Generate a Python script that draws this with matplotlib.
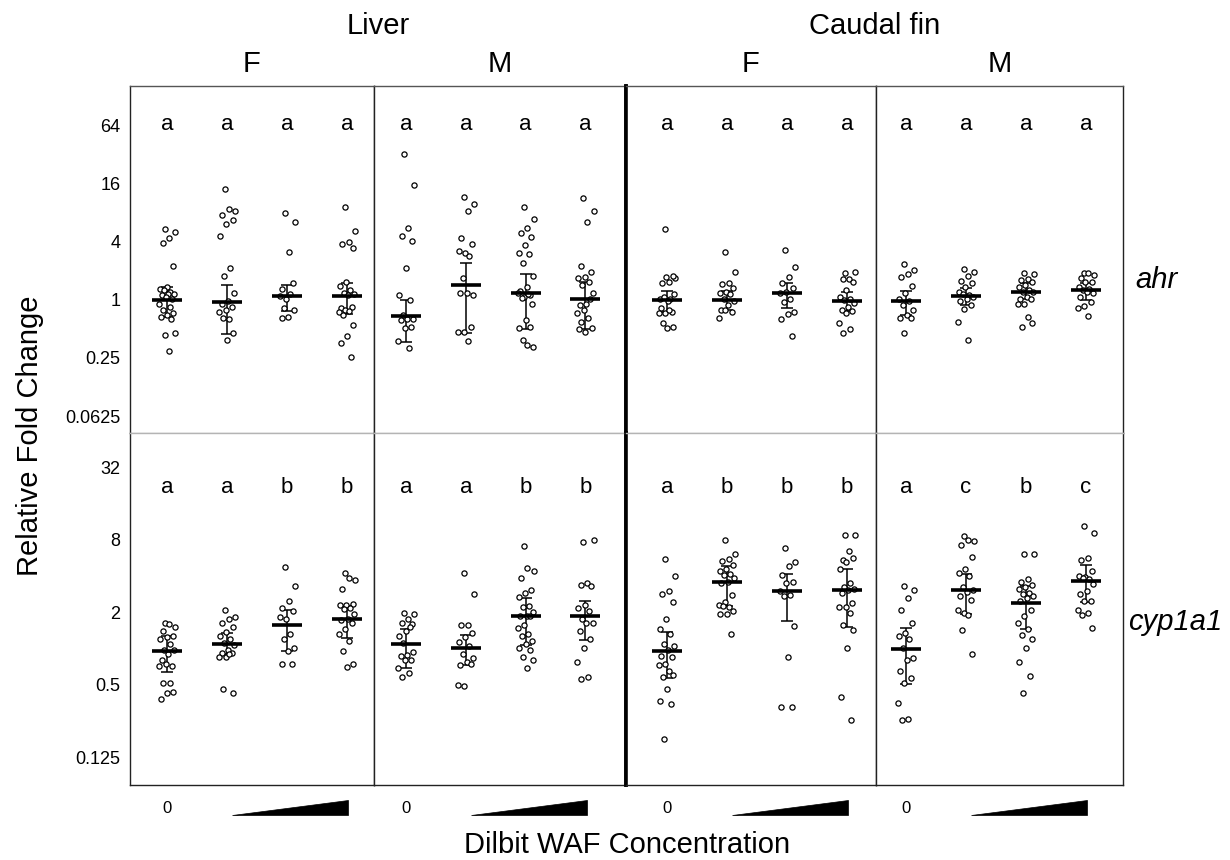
import numpy as np
import matplotlib.pyplot as plt
from matplotlib.patches import Polygon

plt.rcParams['font.family'] = ['Liberation Sans', 'DejaVu Sans']

tissues = ['Liver', 'Caudal fin']
sexes = ['F', 'M', 'F', 'M']
genes = ['ahr', 'cyp1a1']

# log2 relative fold change, one list per WAF level (0, low, mid, high)
ahr_liver_F = [
    [2.42, 2.33, 2.13, 1.96, 1.15, 0.44, 0.35, 0.27, 0.33, 0.19, 0.19, 0.16, 0.04, 0.08,
     -0.16, -0.26, -0.36, -0.47, -0.54, -0.59, -0.66, -1.22, -1.16, -1.75],
    [3.81, 3.06, 3.10, 2.91, 2.74, 2.59, 2.19, 1.10, 0.82, 0.24, -0.05, -0.16, -0.24, -0.36,
     -0.41, -0.68, -0.62, -1.16, -1.39],
    [2.99, 2.68, 1.64, 0.36, 0.56, 0.01, 0.12, 0.19, -0.30, -0.36, -0.59, -0.62],
    [3.17, 2.37, 1.99, 1.90, 1.77, 0.60, 0.47, 0.33, 0.24, 0.19, 0.17, -0.30, -0.24, -0.36,
     -0.41, -0.39, -0.54, -0.88, -1.25, -1.48, -1.97],
]
ahr_liver_M = [
    [4.99, 3.94, 2.47, 2.20, 2.00, 1.10, 0.15, -0.01, -0.54, -0.66, -0.66, -0.70, -0.94, -0.99,
     -1.42, -1.65],
    [3.54, 3.27, 3.05, 2.11, 1.91, 1.59, 1.68, 1.51, 0.73, 0.15, 0.24, 0.24, -0.93, -1.10,
     -1.12, -1.42],
    [3.18, 2.78, 2.46, 2.28, 2.14, 1.87, 1.59, 1.57, 1.25, 0.82, 0.44, 0.30, 0.17, 0.10, 0.22,
     0.19, 0.05, -0.16, -0.70, -0.98, -0.95, -1.39, -1.62, -1.56],
    [3.49, 3.05, 2.68, 1.16, 0.96, 0.79, 0.73, 0.62, 0.50, 0.24, -0.16, -0.18, 0.04, -0.36,
     -0.45, -0.62, -0.76, -0.99, -1.12, -1.01],
]
ahr_fin_F = [
    [2.42, 0.73, 0.62, 0.56, 0.82, 0.79, 0.01, 0.01, 0.08, 0.19, -0.04, -0.27, -0.41, -0.45,
     -0.47, -0.36, -0.79, -0.93, -0.98],
    [1.65, 0.96, 0.58, 0.54, 0.39, 0.27, 0.22, 0.19, 0.01, -0.05, -0.19, -0.36, -0.41, -0.36,
     -0.62],
    [1.69, 1.11, 0.79, 0.56, 0.39, 0.27, 0.22, 0.04, -0.07, -0.41, -0.49, -0.66, -1.25],
    [0.93, 0.96, 0.70, 0.70, 0.59, 0.33, 0.10, 0.04, -0.01, -0.13, -0.24, -0.36, -0.38, -0.45,
     -0.79, -1.01, -1.16],
]
ahr_fin_M = [
    [1.21, 1.02, 0.88, 0.79, 0.47, 0.22, 0.04, -0.04, -0.18, -0.36, -0.53, -0.64, -0.62, -1.16],
    [1.05, 0.96, 0.82, 0.65, 0.56, 0.42, 0.27, 0.16, 0.19, 0.10, 0.01, -0.04, -0.18, -0.33,
     -0.76, -1.39],
    [0.93, 0.87, 0.70, 0.67, 0.62, 0.52, 0.44, 0.33, 0.27, 0.27, 0.10, 0.04, 0.01, -0.15, -0.16,
     -0.59, -0.93, -0.79],
    [0.93, 0.85, 0.93, 0.73, 0.60, 0.62, 0.44, 0.35, 0.33, 0.22, 0.27, 0.08, -0.07, -0.22,
     -0.27, -0.56],
]

cyp_liver_F = [
    [0.71, 0.58, 0.66, 0.48, 0.35, 0.32, 0.25, 0.11, -0.05, -0.05, -0.17, -0.31, -0.49, -0.44,
     -0.49, -0.95, -0.95, -1.21, -1.24, -1.41],
    [1.05, 0.87, 0.82, 0.69, 0.59, 0.44, 0.35, 0.27, 0.14, 0.09, -0.05, -0.12, -0.14, -0.23,
     -0.23, -0.16, -1.11, -1.24],
    [2.25, 1.73, 1.30, 1.12, 1.03, 0.82, 0.87, 0.39, 0.25, 0.02, -0.07, -0.42, -0.44],
    [2.09, 1.88, 1.95, 1.65, 1.22, 1.19, 1.19, 1.10, 1.08, 0.94, 0.80, 0.78, 0.71, 0.53, 0.39,
     0.21, -0.08, -0.42, -0.51],
]
cyp_liver_M = [
    [0.98, 0.94, 0.82, 0.71, 0.67, 0.47, 0.35, 0.59, 0.14, -0.09, -0.19, -0.21, -0.31, -0.32,
     -0.53, -0.69, -0.78],
    [2.09, 1.51, 0.64, 0.64, 0.41, 0.32, 0.17, 0.06, -0.16, -0.28, -0.37, -0.46, -0.44, -1.03,
     -1.01],
    [2.83, 2.14, 2.21, 1.95, 1.62, 1.54, 1.42, 1.17, 1.15, 1.01, 0.90, 0.90, 0.89, 0.64, 0.55,
     0.39, 0.35, 0.20, 0.11, 0.00, -0.05, -0.23, -0.31, -0.55],
    [2.94, 3.00, 1.81, 1.74, 1.73, 1.19, 1.10, 1.04, 0.82, 0.71, 0.71, 0.48, 0.25, 0.02, -0.37,
     -0.78, -0.85],
]
cyp_fin_F = [
    [2.46, 1.99, 1.59, 1.51, 1.27, 0.82, 0.53, 0.39, 0.11, 0.06, -0.05, -0.21, -0.23, -0.44,
     -0.46, -0.63, -0.80, -0.74, -1.11, -1.46, -1.54, -2.49],
    [3.00, 2.60, 2.46, 2.42, 2.31, 2.18, 2.14, 2.04, 2.02, 1.93, 1.84, 1.79, 1.48, 1.29, 1.19,
     1.15, 1.16, 1.04, 0.96, 0.94, 0.39],
    [2.76, 2.39, 2.28, 2.02, 1.82, 1.79, 1.58, 1.47, 1.44, 0.61, -0.23, -1.61, -1.61],
    [3.12, 3.14, 2.68, 2.43, 2.50, 2.39, 2.20, 1.81, 1.70, 1.65, 1.62, 1.53, 1.26, 1.15, 1.15,
     0.97, 0.64, 0.50, 0.02, -1.35, -1.97],
]
cyp_fin_M = [
    [1.71, 1.62, 1.40, 1.05, 0.69, 0.43, 0.34, 0.25, 0.00, -0.27, -0.33, -0.62, -0.83, -0.97,
     -1.50, -1.94, -1.97],
    [3.11, 2.96, 2.99, 2.85, 2.53, 2.18, 2.07, 1.99, 1.70, 1.61, 1.56, 1.45, 1.33, 0.98, 1.05,
     0.93, 0.50, -0.15],
    [2.61, 2.61, 1.92, 1.84, 1.74, 1.68, 1.65, 1.53, 1.51, 1.45, 1.40, 1.30, 1.05, 0.90, 0.69,
     0.53, 0.37, 0.27, 0.00, -0.37, -0.77, -1.24],
    [3.37, 3.19, 2.48, 2.45, 2.14, 1.97, 1.99, 1.91, 1.93, 1.77, 1.59, 1.51, 1.31, 1.31, 1.05,
     0.97, 0.93, 0.57],
]

# group estimate and interval (log2), rows: liver F, liver M, fin F, fin M
ahr_mid = [[-0.01, -0.09, 0.11, 0.11], [-0.55, 0.50, 0.23, 0.04],
           [-0.01, -0.01, 0.24, -0.04], [-0.04, 0.14, 0.28, 0.33]]
ahr_lo = [[-0.61, -1.19, -0.38, -0.49], [-1.46, -1.14, -1.01, -1.00],
          [-0.41, -0.36, -0.30, -0.39], [-0.54, -0.18, 0.04, -0.01]]
ahr_hi = [[0.44, 0.52, 0.52, 0.58], [0.00, 1.26, 0.89, 0.62],
          [0.31, 0.30, 0.58, 0.27], [0.30, 0.41, 0.56, 0.58]]

cyp_mid = [[-0.07, 0.13, 0.63, 0.80], [0.13, 0.01, 0.89, 0.89],
           [-0.07, 1.82, 1.57, 1.60], [-0.02, 1.60, 1.24, 1.85]]
cyp_lo = [[-0.65, -0.16, -0.07, 0.29], [-0.54, -0.47, 0.09, 0.23],
          [-0.83, 1.16, 0.76, 0.59], [-0.99, 0.95, 0.52, 1.28]]
cyp_hi = [[0.34, 0.41, 1.05, 1.17], [0.54, 0.37, 1.39, 1.31],
          [0.46, 2.27, 2.04, 2.19], [0.55, 2.05, 1.73, 2.30]]

ahr_letters = [['a', 'a', 'a', 'a'], ['a', 'a', 'a', 'a'],
               ['a', 'a', 'a', 'a'], ['a', 'a', 'a', 'a']]
cyp_letters = [['a', 'a', 'b', 'b'], ['a', 'a', 'b', 'b'],
               ['a', 'b', 'b', 'b'], ['a', 'c', 'b', 'c']]

ahr_ticks = [64, 16, 4, 1, 0.25, 0.0625]
ahr_ticklabels = ['64', '16', '4', '1', '0.25', '0.0625']
cyp_ticks = [32, 8, 2, 0.5, 0.125]
cyp_ticklabels = ['32', '8', '2', '0.5', '0.125']

rows = [
    dict(points=[ahr_liver_F, ahr_liver_M, ahr_fin_F, ahr_fin_M], mid=ahr_mid, lo=ahr_lo,
         hi=ahr_hi, letters=ahr_letters, ticks=ahr_ticks, labels=ahr_ticklabels,
         ylim=(2 ** -4.58, 2 ** 7.34), letter_y=0.888),
    dict(points=[cyp_liver_F, cyp_liver_M, cyp_fin_F, cyp_fin_M], mid=cyp_mid, lo=cyp_lo,
         hi=cyp_hi, letters=cyp_letters, ticks=cyp_ticks, labels=cyp_ticklabels,
         ylim=(2 ** -3.77, 2 ** 5.94), letter_y=0.844),
]

W, H = 1230, 860
fig = plt.figure(figsize=(W / 100, H / 100), dpi=100)

col_edges = [130, 374, 626, 876, 1123]
row_edges = [(86, 433), (433, 785)]
col_xlim = [(-0.62, 3.45), (-0.54, 3.68), (-0.68, 3.48), (-0.50, 3.62)]

for r, row in enumerate(rows):
    top, bot = row_edges[r]
    for c in range(4):
        x0, x1 = col_edges[c], col_edges[c + 1]
        ax = fig.add_axes([x0 / W, 1 - bot / H, (x1 - x0) / W, (bot - top) / H])
        ax.set_yscale('log', base=2)
        ax.set_ylim(*row['ylim'])
        ax.set_xlim(*col_xlim[c])
        ax.set_xticks([])
        ax.set_yticks(row['ticks'])
        ax.minorticks_off()
        if c == 0:
            ax.set_yticklabels(row['labels'], fontsize=13)
        else:
            ax.set_yticklabels([])
        ax.tick_params(axis='y', length=0, pad=7)

        for g in range(4):
            vals = 2 ** np.array(row['points'][c][g])
            n = len(vals)
            jit = ((np.arange(n) * 0.618034 + 0.37) % 1 - 0.5) * 0.28
            ax.scatter(g + jit, vals, s=14, facecolors='white', edgecolors='black',
                       linewidths=0.9, zorder=3)
            lo = 2 ** row['lo'][c][g]
            hi = 2 ** row['hi'][c][g]
            ax.vlines(g, lo, hi, color='black', lw=1.1, zorder=2)
            ax.hlines([lo, hi], g - 0.1, g + 0.1, color='black', lw=1.1, zorder=2)
            ax.hlines(2 ** row['mid'][c][g], g - 0.25, g + 0.25, color='black', lw=2.6,
                      zorder=4)
            ax.text(g, row['letter_y'], row['letters'][c][g], transform=ax.get_xaxis_transform(),
                    ha='center', va='center', fontsize=16)

        for side in ['left', 'right', 'top', 'bottom']:
            ax.spines[side].set_color('#222222')
            ax.spines[side].set_linewidth(1.0)
        if r == 0:
            ax.spines['bottom'].set_color('#b4b4b4')
            ax.spines['top'].set_color('#555555')
        else:
            ax.spines['top'].set_color('#b4b4b4')
        if c == 1:
            ax.spines['right'].set_linewidth(2.6)
            ax.spines['right'].set_color('black')
        if c == 2:
            ax.spines['left'].set_linewidth(2.6)
            ax.spines['left'].set_color('black')

        if r == 1:
            # concentration key under each panel
            trans = ax.get_xaxis_transform()
            ax.text(0, -0.066, '0', transform=trans, ha='center', va='center', fontsize=12)
            ax.add_patch(Polygon([[1.08, -0.085], [3.02, -0.085], [3.02, -0.043]],
                                 closed=True, transform=trans, facecolor='black',
                                 edgecolor='black', lw=0.5, clip_on=False))

# strip labels
for t, name in enumerate(tissues):
    cx = (col_edges[2 * t] + col_edges[2 * t + 2]) / 2
    fig.text(cx / W, 1 - 26 / H, name, ha='center', va='center', fontsize=21)
for c, sx in enumerate(sexes):
    cx = (col_edges[c] + col_edges[c + 1]) / 2
    fig.text(cx / W, 1 - 64 / H, sx, ha='center', va='center', fontsize=21)

fig.text(1135 / W, 1 - 280 / H, genes[0], ha='left', va='center', fontsize=21, style='italic')
fig.text(1128 / W, 1 - 622 / H, genes[1], ha='left', va='center', fontsize=21, style='italic')

fig.text(30 / W, 1 - 436 / H, 'Relative Fold Change', rotation=90, ha='center', va='center',
         fontsize=21)
fig.text(627 / W, 1 - 845 / H, 'Dilbit WAF Concentration', ha='center', va='center',
         fontsize=21)

fig.savefig('out.png', dpi=100)
